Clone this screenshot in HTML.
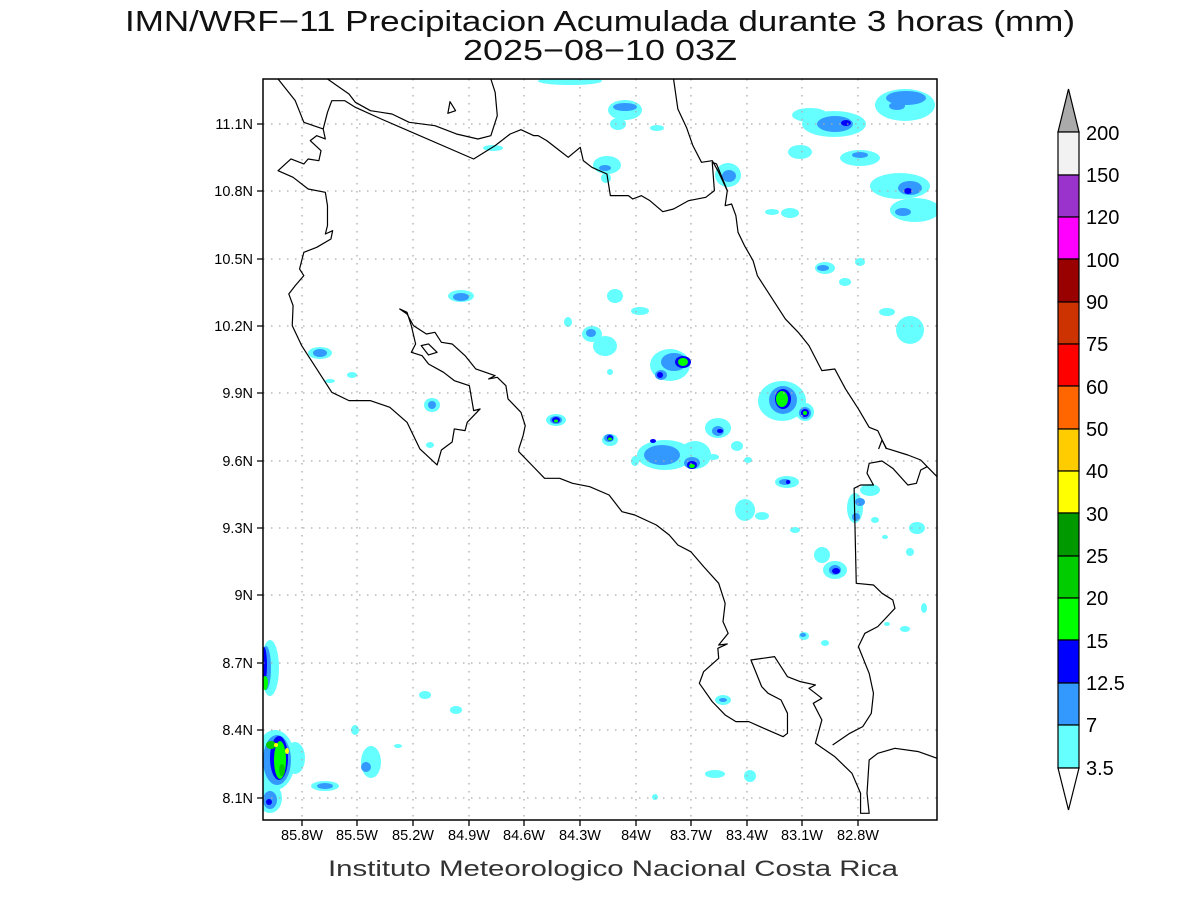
<!DOCTYPE html>
<html><head><meta charset="utf-8"><style>html,body{margin:0;padding:0;background:#fff}svg{display:block}</style></head>
<body>
<svg width="1200" height="900" viewBox="0 0 1200 900" xmlns="http://www.w3.org/2000/svg" font-family="Liberation Sans, sans-serif">
<rect width="1200" height="900" fill="#fff"/>
<text x="600" y="31" font-size="29" text-anchor="middle" textLength="950" lengthAdjust="spacingAndGlyphs" fill="#111">IMN/WRF−11 Precipitacion Acumulada durante 3 horas (mm)</text>
<text x="600" y="60" font-size="29" text-anchor="middle" textLength="274" lengthAdjust="spacingAndGlyphs" fill="#111">2025−08−10 03Z</text>

<clipPath id="c"><rect x="263" y="79" width="674" height="741"/></clipPath>
<g clip-path="url(#c)">
<g fill="#66ffff">
<ellipse cx="570" cy="81" rx="32" ry="4"/>
<ellipse cx="625" cy="110" rx="17" ry="10"/><ellipse cx="618" cy="124" rx="8" ry="6"/>
<ellipse cx="657" cy="128" rx="7" ry="3"/><ellipse cx="493" cy="148" rx="10" ry="3"/>
<ellipse cx="607" cy="165" rx="14" ry="9"/><ellipse cx="606" cy="178" rx="5" ry="5"/>
<ellipse cx="728" cy="175" rx="13" ry="12"/>
<ellipse cx="772" cy="212" rx="7" ry="3"/><ellipse cx="790" cy="213" rx="9" ry="5"/>
<ellipse cx="800" cy="152" rx="12" ry="7"/>
<ellipse cx="834" cy="124" rx="32" ry="13"/><ellipse cx="810" cy="115" rx="18" ry="7"/>
<ellipse cx="905" cy="105" rx="30" ry="16"/><ellipse cx="860" cy="158" rx="20" ry="8"/>
<ellipse cx="900" cy="186" rx="30" ry="13"/><ellipse cx="915" cy="210" rx="25" ry="12"/>
<ellipse cx="825" cy="268" rx="10" ry="6"/><ellipse cx="845" cy="282" rx="6" ry="4"/>
<ellipse cx="860" cy="262" rx="5" ry="4"/><ellipse cx="887" cy="312" rx="8" ry="4"/>
<ellipse cx="910" cy="330" rx="14" ry="14"/>
<ellipse cx="461" cy="296" rx="13" ry="6"/>
<ellipse cx="615" cy="296" rx="8" ry="7"/><ellipse cx="640" cy="311" rx="9" ry="4"/>
<ellipse cx="592" cy="334" rx="10" ry="8"/><ellipse cx="605" cy="346" rx="12" ry="10"/>
<ellipse cx="568" cy="322" rx="4" ry="5"/><ellipse cx="320" cy="353" rx="12" ry="6"/>
<ellipse cx="352" cy="375" rx="5" ry="3"/><ellipse cx="670" cy="365" rx="20" ry="16"/>
<ellipse cx="610" cy="372" rx="3" ry="3"/><ellipse cx="432" cy="405" rx="8" ry="7"/>
<ellipse cx="430" cy="445" rx="4" ry="3"/><ellipse cx="330" cy="381" rx="5" ry="2"/>
<ellipse cx="782" cy="401" rx="24" ry="20"/><ellipse cx="805" cy="412" rx="9" ry="9"/>
<ellipse cx="556" cy="420" rx="10" ry="6"/><ellipse cx="610" cy="440" rx="8" ry="6"/>
<ellipse cx="665" cy="455" rx="28" ry="15"/><ellipse cx="695" cy="455" rx="16" ry="14"/>
<ellipse cx="635" cy="461" rx="4" ry="5"/><ellipse cx="718" cy="428" rx="13" ry="10"/>
<ellipse cx="737" cy="446" rx="6" ry="5"/><ellipse cx="713" cy="457" rx="6" ry="3"/>
<ellipse cx="748" cy="460" rx="4" ry="3"/><ellipse cx="787" cy="482" rx="12" ry="6"/>
<ellipse cx="745" cy="510" rx="10" ry="11"/><ellipse cx="762" cy="516" rx="7" ry="4"/>
<ellipse cx="795" cy="530" rx="5" ry="3"/><ellipse cx="855" cy="508" rx="8" ry="15"/>
<ellipse cx="870" cy="490" rx="10" ry="6"/><ellipse cx="875" cy="520" rx="4" ry="3"/>
<ellipse cx="822" cy="555" rx="8" ry="8"/><ellipse cx="835" cy="570" rx="12" ry="9"/>
<ellipse cx="917" cy="528" rx="8" ry="6"/><ellipse cx="910" cy="552" rx="4" ry="4"/>
<ellipse cx="885" cy="537" rx="3" ry="2"/>
<ellipse cx="804" cy="636" rx="5" ry="4"/><ellipse cx="825" cy="643" rx="4" ry="3"/>
<ellipse cx="905" cy="629" rx="5" ry="3"/><ellipse cx="887" cy="624" rx="3" ry="2"/>
<ellipse cx="924" cy="608" rx="3" ry="5"/><ellipse cx="723" cy="700" rx="8" ry="5"/>
<ellipse cx="425" cy="695" rx="6" ry="4"/><ellipse cx="456" cy="710" rx="6" ry="4"/>
<ellipse cx="270" cy="668" rx="9" ry="28"/><ellipse cx="275" cy="760" rx="20" ry="30"/>
<ellipse cx="270" cy="798" rx="12" ry="15"/><ellipse cx="295" cy="758" rx="10" ry="16"/>
<ellipse cx="325" cy="786" rx="14" ry="5"/><ellipse cx="371" cy="762" rx="10" ry="16"/>
<ellipse cx="355" cy="730" rx="4" ry="5"/><ellipse cx="398" cy="746" rx="4" ry="2"/>
<ellipse cx="715" cy="774" rx="10" ry="4"/><ellipse cx="750" cy="776" rx="6" ry="6"/>
<ellipse cx="655" cy="797" rx="3" ry="3"/>
</g>
<g fill="#3399ff">
<ellipse cx="625" cy="107" rx="12" ry="4"/><ellipse cx="605" cy="168" rx="6" ry="3"/>
<ellipse cx="729" cy="176" rx="7" ry="6"/><ellipse cx="835" cy="124" rx="18" ry="8"/>
<ellipse cx="906" cy="98" rx="20" ry="7"/><ellipse cx="897" cy="106" rx="8" ry="4"/>
<ellipse cx="910" cy="188" rx="12" ry="7"/><ellipse cx="903" cy="212" rx="8" ry="4"/>
<ellipse cx="860" cy="155" rx="8" ry="3"/><ellipse cx="823" cy="268" rx="6" ry="3"/>
<ellipse cx="461" cy="297" rx="8" ry="4"/><ellipse cx="591" cy="333" rx="5" ry="4"/>
<ellipse cx="320" cy="353" rx="7" ry="4"/><ellipse cx="432" cy="405" rx="4" ry="4"/>
<ellipse cx="674" cy="362" rx="13" ry="9"/><ellipse cx="661" cy="375" rx="6" ry="5"/>
<ellipse cx="783" cy="400" rx="14" ry="14"/><ellipse cx="805" cy="413" rx="6" ry="6"/>
<ellipse cx="556" cy="420" rx="6" ry="4"/><ellipse cx="609" cy="438" rx="5" ry="4"/>
<ellipse cx="662" cy="455" rx="18" ry="10"/><ellipse cx="692" cy="463" rx="8" ry="6"/>
<ellipse cx="718" cy="431" rx="6" ry="5"/><ellipse cx="785" cy="482" rx="6" ry="3"/>
<ellipse cx="860" cy="502" rx="5" ry="4"/><ellipse cx="856" cy="517" rx="4" ry="4"/>
<ellipse cx="835" cy="570" rx="6" ry="5"/><ellipse cx="803" cy="635" rx="3" ry="2"/>
<ellipse cx="266" cy="668" rx="5" ry="22"/><ellipse cx="277" cy="760" rx="14" ry="25"/>
<ellipse cx="270" cy="800" rx="7" ry="9"/><ellipse cx="325" cy="786" rx="8" ry="3"/>
<ellipse cx="366" cy="767" rx="5" ry="5"/><ellipse cx="723" cy="700" rx="4" ry="2"/>
</g>
<g fill="#0000ff">
<ellipse cx="846" cy="123" rx="5" ry="3"/><ellipse cx="908" cy="191" rx="4" ry="3"/>
<ellipse cx="683" cy="362" rx="8" ry="6"/><ellipse cx="660" cy="375" rx="3" ry="3"/>
<ellipse cx="783" cy="399" rx="8" ry="10"/><ellipse cx="805" cy="413" rx="4" ry="4"/>
<ellipse cx="556" cy="420" rx="4" ry="3"/><ellipse cx="610" cy="438" rx="3" ry="3"/>
<ellipse cx="692" cy="465" rx="5" ry="4"/><ellipse cx="653" cy="441" rx="3" ry="2"/>
<ellipse cx="836" cy="571" rx="4" ry="3"/><ellipse cx="264" cy="665" rx="3" ry="18"/>
<ellipse cx="279" cy="758" rx="9" ry="22"/><ellipse cx="269" cy="802" rx="3" ry="3"/>
<ellipse cx="720" cy="431" rx="3" ry="2"/><ellipse cx="788" cy="482" rx="2" ry="2"/>
</g>
<g fill="#00ff00">
<ellipse cx="683" cy="362" rx="5" ry="4"/><ellipse cx="782" cy="399" rx="6" ry="8"/>
<ellipse cx="805" cy="413" rx="2" ry="2"/><ellipse cx="692" cy="466" rx="3" ry="2"/>
<ellipse cx="610" cy="439" rx="2" ry="1.5"/><ellipse cx="556" cy="421" rx="2" ry="1.5"/>
<ellipse cx="265" cy="683" rx="3" ry="7"/><ellipse cx="280" cy="760" rx="6" ry="19"/>
</g>
<g fill="#00cc00"><ellipse cx="271" cy="745" rx="5" ry="4"/><ellipse cx="282" cy="770" rx="3" ry="6"/></g>
<g fill="#ffff00"><ellipse cx="276" cy="745" rx="2" ry="2"/><ellipse cx="287" cy="751" rx="2" ry="3"/></g>

<g stroke="#aaa" stroke-width="1.3" stroke-dasharray="1.5,6.5">
<line x1="302" y1="79" x2="302" y2="820"/><line x1="357" y1="79" x2="357" y2="820"/>
<line x1="413" y1="79" x2="413" y2="820"/><line x1="469" y1="79" x2="469" y2="820"/>
<line x1="524" y1="79" x2="524" y2="820"/><line x1="580" y1="79" x2="580" y2="820"/>
<line x1="636" y1="79" x2="636" y2="820"/><line x1="691" y1="79" x2="691" y2="820"/>
<line x1="747" y1="79" x2="747" y2="820"/><line x1="802" y1="79" x2="802" y2="820"/>
<line x1="858" y1="79" x2="858" y2="820"/>
<line x1="263" y1="124" x2="937" y2="124"/><line x1="263" y1="191" x2="937" y2="191"/>
<line x1="263" y1="259" x2="937" y2="259"/><line x1="263" y1="326" x2="937" y2="326"/>
<line x1="263" y1="393" x2="937" y2="393"/><line x1="263" y1="461" x2="937" y2="461"/>
<line x1="263" y1="528" x2="937" y2="528"/><line x1="263" y1="595" x2="937" y2="595"/>
<line x1="263" y1="663" x2="937" y2="663"/><line x1="263" y1="730" x2="937" y2="730"/>
<line x1="263" y1="798" x2="937" y2="798"/>
</g>

<g fill="none" stroke="#000" stroke-width="1.2" stroke-linejoin="round">
<g transform="translate(263,79) scale(0.4299,0.3333)">
<polyline vector-effect="non-scaling-stroke" points="35,0 75,65 95,130 140,150 145,180 125,170 110,185 135,215 130,245 105,240 95,255 65,240 35,275 70,295 105,330 145,340 150,380 150,440 145,465 162,455 158,480 125,505 95,520 85,570 95,590 75,620 60,645 70,680 68,740 90,800 125,870 160,940 200,965 250,965 295,985 335,1030 365,1110 380,1128 405,1158 415,1113 440,1089 445,1050 470,1055 475,1030 505,990 490,995 480,920 445,905 420,880 385,855 370,830 345,820 355,795 345,740 335,700 318,690 335,705 350,740 380,765 400,760 415,790 440,795 470,830 495,870 540,890 525,900 545,895 565,920 570,960 600,1000 610,1040 605,1070 595,1110"/>
<polyline vector-effect="non-scaling-stroke" points="955,0 965,90 985,145 1000,200 1020,250 1045,245 1060,280 1080,335 1075,380 1090,375 1100,410 1105,460 1120,500 1140,545 1150,590 1165,620 1190,670 1215,720 1245,760 1270,800 1300,875 1330,870 1355,930 1385,990 1410,1045 1430,1055 1450,1110"/>
<polyline vector-effect="non-scaling-stroke" points="150,0 200,45 215,70 250,95 300,105 340,130 400,140 450,165 500,180 530,170 545,110 540,40 530,0"/>
<polyline vector-effect="non-scaling-stroke" points="140,150 150,100 160,65 190,65 215,85 275,120 490,240 540,200 575,165 600,152 630,170 640,170 660,185 690,215 710,235 738,205 745,245 765,265 800,285 808,350 850,350 860,360 880,350 900,365 930,398 955,390 990,365 1030,355 1050,335 1045,250 1055,255 1080,335"/>
<polygon vector-effect="non-scaling-stroke" points="435,68 448,95 430,103"/>
<polygon vector-effect="non-scaling-stroke" points="368,800 385,795 405,820 385,828"/>
</g>
<g transform="translate(263,440) scale(0.4299,0.3333)">
<polyline vector-effect="non-scaling-stroke" points="595,27 595,35 625,75 655,115 690,115 720,130 760,140 805,165 835,215 865,225 915,255 945,285 965,315 995,335 1025,380 1060,430 1075,490 1070,545 1082,580 1060,615 1080,612 1058,625 1060,655 1025,695 1015,730 1045,785 1075,825 1100,845 1130,845 1165,865 1210,890 1220,880 1220,820 1205,780 1175,760 1160,740 1135,660 1190,650 1220,710 1250,725 1285,735 1270,745 1300,775 1280,790 1300,840 1285,910 1330,950 1370,1000 1390,1060 1390,1120 1410,1120 1405,1060 1410,960 1430,940 1470,925 1525,935 1568,955"/>
<polyline vector-effect="non-scaling-stroke" points="1325,915 1365,880 1395,860 1415,820 1420,760 1410,700 1385,620 1400,580 1430,560 1470,505 1465,480 1440,460 1420,435 1380,430 1375,145 1390,135 1420,135 1405,100 1410,70 1440,63 1465,85 1500,135 1520,130 1530,90 1545,80 1568,110"/>
<polyline vector-effect="non-scaling-stroke" points="1432,27 1440,0 1450,25 1500,45 1530,60 1545,80"/>
</g>
</g>
</g>
<rect x="263" y="79" width="674" height="741" fill="none" stroke="#000" stroke-width="1.5"/>

<g stroke="#000" stroke-width="1.3">
<path d="M302 820v6M357 820v6M413 820v6M469 820v6M524 820v6M580 820v6M636 820v6M691 820v6M747 820v6M802 820v6M858 820v6"/>
<path d="M257 124h6M257 191h6M257 259h6M257 326h6M257 393h6M257 461h6M257 528h6M257 595h6M257 663h6M257 730h6M257 798h6"/>
</g>
<g font-size="14.5" text-anchor="end">
<text x="253" y="129">11.1N</text><text x="253" y="196">10.8N</text><text x="253" y="264">10.5N</text>
<text x="253" y="331">10.2N</text><text x="253" y="398">9.9N</text><text x="253" y="466">9.6N</text>
<text x="253" y="533">9.3N</text><text x="253" y="600">9N</text><text x="253" y="668">8.7N</text>
<text x="253" y="735">8.4N</text><text x="253" y="803">8.1N</text>
</g>
<g font-size="14.5" text-anchor="middle">
<text x="302" y="840">85.8W</text><text x="357" y="840">85.5W</text><text x="413" y="840">85.2W</text>
<text x="469" y="840">84.9W</text><text x="524" y="840">84.6W</text><text x="580" y="840">84.3W</text>
<text x="636" y="840">84W</text><text x="691" y="840">83.7W</text><text x="747" y="840">83.4W</text>
<text x="802" y="840">83.1W</text><text x="858" y="840">82.8W</text>
</g>
<text x="613" y="876" font-size="22" text-anchor="middle" textLength="570" lengthAdjust="spacingAndGlyphs" fill="#333">Instituto Meteorologico Nacional Costa Rica</text>

<g stroke="#000" stroke-width="1.2">
<polygon points="1058,132 1079,132 1068.5,89" fill="#aaaaaa"/>
<rect x="1058" y="132" width="21" height="43" fill="#f2f2f2"/>
<rect x="1058" y="175" width="21" height="42" fill="#9933cc"/>
<rect x="1058" y="217" width="21" height="42" fill="#ff00ff"/>
<rect x="1058" y="259" width="21" height="43" fill="#990000"/>
<rect x="1058" y="302" width="21" height="42" fill="#cc3300"/>
<rect x="1058" y="344" width="21" height="42" fill="#ff0000"/>
<rect x="1058" y="386" width="21" height="43" fill="#ff6600"/>
<rect x="1058" y="429" width="21" height="42" fill="#ffcc00"/>
<rect x="1058" y="471" width="21" height="42" fill="#ffff00"/>
<rect x="1058" y="513" width="21" height="43" fill="#009900"/>
<rect x="1058" y="556" width="21" height="42" fill="#00cc00"/>
<rect x="1058" y="598" width="21" height="42" fill="#00ff00"/>
<rect x="1058" y="640" width="21" height="43" fill="#0000ff"/>
<rect x="1058" y="683" width="21" height="42" fill="#3399ff"/>
<rect x="1058" y="725" width="21" height="43" fill="#66ffff"/>
<polygon points="1058,768 1079,768 1068.5,810" fill="#ffffff"/>
</g>
<g font-size="20">
<text x="1086" y="140">200</text><text x="1086" y="182">150</text><text x="1086" y="224">120</text>
<text x="1086" y="267">100</text><text x="1086" y="309">90</text><text x="1086" y="351">75</text>
<text x="1086" y="394">60</text><text x="1086" y="436">50</text><text x="1086" y="478">40</text>
<text x="1086" y="521">30</text><text x="1086" y="563">25</text><text x="1086" y="605">20</text>
<text x="1086" y="648">15</text><text x="1086" y="690">12.5</text><text x="1086" y="732">7</text>
<text x="1086" y="775">3.5</text>
</g>
</svg>
</body></html>
